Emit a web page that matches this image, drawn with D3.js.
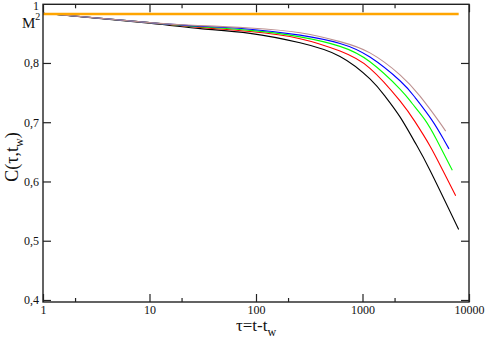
<!DOCTYPE html>
<html>
<head>
<meta charset="utf-8">
<script src="https://cdn.jsdelivr.net/npm/d3@7"></script>
<style>
  body { margin: 0; background: #fff; }
  svg { display: block; }
  .axis path { display: none; }
  .axis line { stroke: #222; stroke-width: 1.2; }
</style>
</head>
<body>
<div id="chart"></div>
<script>
// ---- data ----
const blackTau = [1, 10, 30, 88, 259, 615, 1175, 1626, 2250, 3110, 4300, 8000];
const blackC   = [0.884, 0.867, 0.858, 0.850, 0.834, 0.811, 0.773, 0.744, 0.709, 0.666, 0.619, 0.519];

const redTau = [1, 10, 30, 88, 259, 615, 1175, 2250, 3110, 4300, 5700, 7500];
const redC   = [0.884, 0.868, 0.860, 0.853, 0.841, 0.820, 0.791, 0.736, 0.701, 0.660, 0.618, 0.576];

const greenTau = [1, 10, 30, 88, 259, 615, 1175, 2250, 2915, 3860, 4980, 6970];
const greenC   = [0.884, 0.868, 0.861, 0.855, 0.844, 0.828, 0.802, 0.756, 0.732, 0.704, 0.670, 0.619];

const blueTau = [1, 10, 30, 88, 259, 615, 1175, 2250, 3110, 4470, 5820, 6490];
const blueC   = [0.884, 0.868, 0.862, 0.857, 0.847, 0.833, 0.810, 0.770, 0.742, 0.704, 0.670, 0.655];

const tanTau = [1, 10, 30, 88, 259, 615, 1175, 2250, 3467, 5100, 6040];
const tanC   = [0.884, 0.868, 0.863, 0.859, 0.851, 0.836, 0.817, 0.780, 0.744, 0.704, 0.685];

const m2Tau = [1, 8000];
const m2C   = [0.8827, 0.8827];

const xMajor = [1, 10, 100, 1000, 10000];
const xMinor = [2, 20, 200, 2000];
const yMajor = [0.4, 0.5, 0.6, 0.7, 0.8];
const yLabels = ["0,4", "0,5", "0,6", "0,7", "0,8"];

const series = [
  { tau: blackTau, c: blackC, color: "#000000", w: 1.1 },
  { tau: redTau, c: redC, color: "#ff0000", w: 1.1 },
  { tau: greenTau, c: greenC, color: "#00ff00", w: 1.1 },
  { tau: blueTau, c: blueC, color: "#0000ff", w: 1.1 },
  { tau: tanTau, c: tanC, color: "#bc8f8f", w: 1.1 },
  { tau: m2Tau, c: m2C, color: "#ffa500", w: 2.6 }
];

const FONT = "'Liberation Serif', 'Times New Roman', Times, serif";

// ---- layout ----
const W = 485, H = 338;
const pLeft = 43, pRight = 469, pTop = 4.3, pBottom = 302;

const svg = d3.select("#chart").append("svg")
  .attr("width", W).attr("height", H)
  .attr("font-family", FONT);

const x = d3.scaleLog().domain([1, 10000]).range([pLeft, pRight]);
const y = d3.scaleLinear().domain([0.3966, 0.899]).range([pBottom, pTop]);

// curves
const line = d3.line()
  .x(d => x(d[0]))
  .y(d => y(d[1]))
  .curve(d3.curveNatural);

series.forEach(s => {
  svg.append("path")
    .datum(s.tau.map((t, i) => [t, s.c[i]]))
    .attr("fill", "none")
    .attr("stroke", s.color)
    .attr("stroke-width", s.w)
    .attr("d", line);
});

// axes (ticks point inward on all four sides)
function styleAxis(g) {
  g.attr("font-family", FONT).attr("font-size", 12);
  g.selectAll("text").attr("fill", "#111");
}

svg.append("g").attr("class", "axis")
  .attr("transform", `translate(0,${pBottom})`)
  .call(d3.axisBottom(x).tickValues(xMajor).tickSize(-8).tickPadding(3.5)
    .tickFormat(d3.format("d")))
  .call(styleAxis);
svg.append("g").attr("class", "axis")
  .attr("transform", `translate(0,${pBottom})`)
  .call(d3.axisBottom(x).tickValues(xMinor).tickSize(-4).tickFormat(""));
svg.append("g").attr("class", "axis")
  .attr("transform", `translate(0,${pTop})`)
  .call(d3.axisTop(x).tickValues(xMajor).tickSize(-8).tickFormat(""));
svg.append("g").attr("class", "axis")
  .attr("transform", `translate(0,${pTop})`)
  .call(d3.axisTop(x).tickValues(xMinor).tickSize(-4).tickFormat(""));

svg.append("g").attr("class", "axis")
  .attr("transform", `translate(${pLeft},0)`)
  .call(d3.axisLeft(y).tickValues(yMajor).tickSize(-8).tickPadding(4)
    .tickFormat((d, i) => yLabels[i]))
  .call(styleAxis);
svg.append("g").attr("class", "axis")
  .attr("transform", `translate(${pRight},0)`)
  .call(d3.axisRight(y).tickValues(yMajor).tickSize(-8).tickFormat(""));

// frame
svg.append("rect")
  .attr("x", pLeft).attr("y", pTop)
  .attr("width", pRight - pLeft).attr("height", pBottom - pTop)
  .attr("fill", "none").attr("stroke", "#222").attr("stroke-width", 1.4);

// top label "1" and M^2 marker
svg.append("text")
  .attr("x", pLeft - 4).attr("y", 9.5)
  .attr("text-anchor", "end").attr("font-size", 12).attr("fill", "#111")
  .text("1");

const m2 = svg.append("text")
  .attr("x", 22).attr("y", 28)
  .attr("font-size", 15).attr("fill", "#111");
m2.append("tspan").text("M");
m2.append("tspan").attr("dy", -8).attr("font-size", 10).text("2");

// axis titles
const xt = svg.append("text")
  .attr("x", 256).attr("y", 331)
  .attr("text-anchor", "middle").attr("font-size", 17).attr("fill", "#111");
xt.append("tspan").text("τ=t-t");
xt.append("tspan").attr("dy", 5).attr("font-size", 12).text("w");

const yt = svg.append("text")
  .attr("transform", "translate(18,157) rotate(-90)")
  .attr("text-anchor", "middle").attr("font-size", 18).attr("fill", "#111");
yt.append("tspan").text("C(τ,t");
yt.append("tspan").attr("dy", 5).attr("font-size", 12).text("w");
yt.append("tspan").attr("dy", -5).text(")");
</script>
</body>
</html>
